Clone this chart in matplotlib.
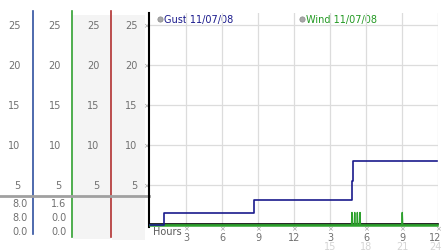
import matplotlib
matplotlib.use("Agg")
import matplotlib.pyplot as plt
from matplotlib.transforms import blended_transform_factory

# ---- data ----
gust_hours = [0.0, 1.15, 8.65, 16.85, 16.95, 23.9]
gust_speed = [0.0, 1.6, 3.2, 5.6, 8.0, 8.0]

wind_hours = [0.0, 16.79, 16.83, 16.87, 17.02, 17.06, 17.10, 17.24, 17.28, 17.32,
              17.46, 17.50, 17.54, 20.98, 21.02, 21.06, 23.9]
wind_speed = [0.0, 0.0, 1.6, 0.0, 0.0, 1.6, 0.0, 0.0, 1.6, 0.0,
              0.0, 1.6, 0.0, 0.0, 1.6, 0.0, 0.0]

scale_values = [5, 10, 15, 20, 25]
hour_ticks = [3, 6, 9, 12, 15, 18, 21, 24]
hour_labels_top = ["3", "6", "9", "12", "3", "6", "9", "12"]
hour_labels_bottom = ["", "", "", "", "15", "18", "21", "24"]
gust_stats = ["8.0", "8.0", "0.0"]
wind_stats = ["1.6", "0.0", "0.0"]
legend_labels = ["Gust 11/07/08", "Wind 11/07/08"]

GUST_C = "#1a1a8c"
WIND_C = "#2ca02c"
TXT = "#707070"
FS = 7

W, H = 442, 253
fig = plt.figure(figsize=(W / 100, H / 100), dpi=100)
fig.patch.set_facecolor("white")

# pixel overlay axes
px = fig.add_axes([0, 0, 1, 1])
px.set_xlim(0, W)
px.set_ylim(H, 0)
px.axis("off")
px.set_zorder(0)

# main axes: zero at y=226.3 px, 8 px per unit, 12 px per hour
y0, ppu = 226.3, 8.0
ylo, yhi = -0.15, 26.6
bot_px = y0 - ylo * ppu
top_px = y0 - yhi * ppu
xlo, xhi = -0.08, 24.0
left_px = 150 + xlo * 12
right_px = 150 + xhi * 12
ax = fig.add_axes([left_px / W, (H - bot_px) / H, (right_px - left_px) / W, (bot_px - top_px) / H])
ax.set_zorder(2)
ax.patch.set_alpha(0)
ax.set_xlim(xlo, xhi)
ax.set_ylim(ylo, yhi)
for s in ["top", "right"]:
    ax.spines[s].set_visible(False)
ax.spines["left"].set_color("black")
ax.spines["left"].set_linewidth(1.5)
ax.spines["bottom"].set_color("black")
ax.spines["bottom"].set_linewidth(1.2)
ax.spines["bottom"].set_position(("data", 0.17))
ax.set_xticks(hour_ticks)
ax.set_yticks(scale_values)
ax.tick_params(length=0, labelleft=False, labelbottom=False)
ax.grid(True, color="#dcdcdc", linewidth=0.9)
ax.set_axisbelow(True)

ax.plot(wind_hours, wind_speed, color=WIND_C, linewidth=1.0, zorder=3, clip_on=False)
ax.plot([wind_hours[0], wind_hours[-1]], [wind_speed[0], wind_speed[-1]], color=WIND_C,
        linewidth=1.8, zorder=3, clip_on=False)
ax.step(gust_hours, gust_speed, where="post", color=GUST_C, linewidth=1.2, zorder=4, clip_on=False)

bx = blended_transform_factory(ax.transData, px.transData)
by = blended_transform_factory(px.transData, ax.transData)

# y tick markers
for v in scale_values:
    px.text(146, v, "×", fontsize=5, color="#9a9a9a", ha="center", va="center",
            transform=by, zorder=5)

# x tick labels
for i, (h, t1, t2) in enumerate(zip(hour_ticks, hour_labels_top, hour_labels_bottom)):
    hx = h - 0.25 if i == len(hour_ticks) - 1 else h
    ax.text(h, 229.5, "×", fontsize=5, color="#9a9a9a", ha="center", va="center",
            transform=bx, clip_on=False)
    ax.text(hx, 238.5, t1, fontsize=FS, color=TXT, ha="center", va="center",
            transform=bx, clip_on=False)
    if t2:
        ax.text(hx, 247.5, t2, fontsize=FS, color="#d4d4d4", ha="center", va="center",
                transform=bx, clip_on=False)
px.text(153, 232, "Hours", fontsize=FS, color="#5a5a5a", ha="left", va="center")

# legend
px.plot([160], [19.5], "o", color="#a8a8a8", markersize=3.8, markeredgecolor="#8a8a8a", markeredgewidth=0.5)
px.text(163.5, 19.5, legend_labels[0], fontsize=FS, color=GUST_C, ha="left", va="center")
px.plot([302], [19.5], "o", color="#a8a8a8", markersize=3.8, markeredgecolor="#8a8a8a", markeredgewidth=0.5)
px.text(305.5, 19.5, legend_labels[1], fontsize=FS, color="#229922", ha="left", va="center")

# left panel
px.add_patch(plt.Rectangle((73, 16), 38, 224, color="#f4f4f4", zorder=0, linewidth=0))
px.add_patch(plt.Rectangle((112, 16), 33, 225, color="#f4f4f4", zorder=0, linewidth=0))
px.plot([33.3, 33.3], [12, 235], color="#3050a0", linewidth=1.2)
px.plot([72.3, 72.3], [12, 238], color="#30a030", linewidth=1.2)
px.plot([111.3, 111.3], [12, 238], color="#b03030", linewidth=1.2)
px.plot([0, 149], [196.5, 196.5], color="#a0a0a0", linewidth=2.0, zorder=3)

for v in scale_values:
    for xr in [20.5, 61, 99.5, 137.5]:
        px.text(xr, v, str(v), fontsize=FS, color=TXT, ha="right", va="center", transform=by)
for i, (g, w) in enumerate(zip(gust_stats, wind_stats)):
    yy = 204.5 + i * 14
    px.text(27.5, yy, g, fontsize=FS, color=TXT, ha="right", va="center")
    px.text(66.5, yy, w, fontsize=FS, color=TXT, ha="right", va="center")

fig.savefig("out.png", dpi=100)
